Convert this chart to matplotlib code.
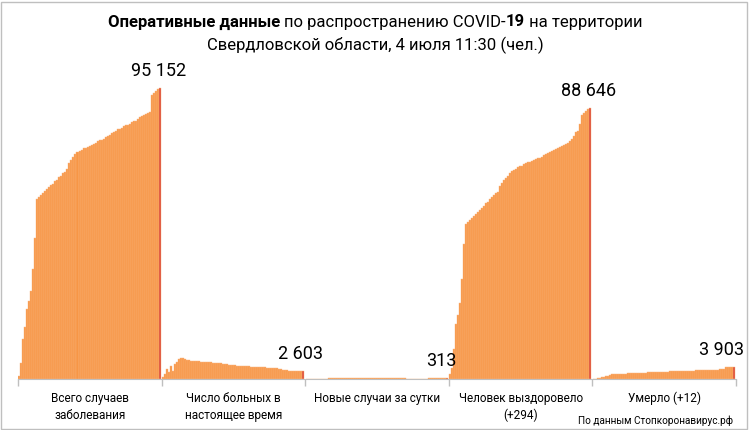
import matplotlib
matplotlib.use('Agg')
import matplotlib.pyplot as plt
from matplotlib.patches import Rectangle
import numpy as np

plt.rcParams['font.family'] = ['Roboto', 'DejaVu Sans']

# Категории (подписи под осью)
categories = ['Всего случаев\nзаболевания',
              'Число больных в\nнастоящее время',
              'Новые случаи за сутки',
              'Человек выздоровело\n(+294)',
              'Умерло (+12)']
value_labels = ['95 152', '2 603', '313', '88 646', '3 903']

# Всего случаев заболевания
total_cases = [1000, 5200, 13100, 17000, 22900, 25500, 28800, 36000, 46100, 58900,
               59500, 60200, 60800, 61500, 62100, 62800, 63400, 63900, 64600, 65200,
               65900, 66500, 67200, 67800, 68500, 70600, 71600, 72600, 73600, 74100,
               74600, 75000, 75400, 75500, 75900, 76200, 76500, 76800, 77300, 77700,
               78000, 78300, 78600, 79000, 79500, 79800, 80300, 80800, 81100, 81600,
               81900, 82200, 82600, 82900, 83200, 83500, 83900, 84200, 84500, 85000,
               85500, 86000, 86300, 86700, 87000, 87300, 92900, 93500, 94200, 94700,
               95152]

# Число больных в настоящее время
active_cases = [650, 1650, 3300, 2300, 4250, 2600, 4900, 5550, 6550, 6850,
                6900, 6500, 6200, 6050, 5980, 5950, 5890, 5820, 5760, 5720,
                5660, 5620, 5560, 5490, 5430, 5360, 5260, 5200, 5130, 5070,
                4970, 4900, 4840, 4740, 4680, 4580, 4510, 4410, 4350, 4250,
                4220, 4190, 4150, 4120, 4050, 4020, 3990, 3920, 3890, 3860,
                3830, 3790, 3760, 3700, 3660, 3630, 3600, 3470, 3340, 3200,
                3070, 2940, 2840, 2710, 2620, 2580, 2550, 2550, 2560, 2580,
                2603]

# Новые случаи за сутки
new_cases = [5, 12, 25, 40, 60, 80, 100, 120, 140, 150,
             160, 175, 190, 200, 210, 220, 230, 240, 250, 260,
             265, 270, 280, 290, 300, 290, 280, 270, 260, 250,
             240, 230, 230, 220, 220, 210, 210, 200, 200, 205,
             210, 200, 195, 190, 190, 185, 180, 175, 170, 165,
             160, 160, 155, 150, 150, 145, 140, 145, 150, 155,
             160, 170, 180, 190, 200, 215, 230, 250, 270, 290,
             313]

# Человек выздоровело
recovered = [1600, 3600, 9800, 18000, 20900, 24900, 32700, 44100, 50700, 51300,
             52000, 52600, 53300, 54000, 54600, 55300, 55900, 56700, 57400, 58000,
             58700, 59400, 60000, 60700, 61300, 63100, 64100, 65100, 65700, 66500,
             67200, 67900, 68300, 68800, 69200, 69500, 69800, 70300, 70600, 70800,
             71100, 71300, 71600, 71800, 72100, 72300, 72600, 73100, 73600, 73900,
             74200, 74600, 74900, 75200, 75500, 75900, 76200, 76500, 76800, 77200,
             77800, 78600, 79500, 80800, 81100, 83400, 86300, 87000, 87600, 88300,
             88646]

# Умерло
deaths = [60, 130, 230, 390, 560, 750, 950, 1110, 1370, 1630,
          1700, 1730, 1740, 1750, 1760, 1780, 1790, 1800, 1810, 1830,
          1850, 1880, 1920, 1970, 2010, 2060, 2110, 2160, 2200, 2230,
          2260, 2290, 2310, 2340, 2370, 2390, 2420, 2440, 2470, 2490,
          2520, 2540, 2570, 2590, 2620, 2640, 2670, 2690, 2720, 2740,
          2770, 2800, 2820, 2850, 2870, 2900, 2920, 2950, 2980, 3000,
          3030, 3060, 3100, 3140, 3180, 3260, 3800, 3830, 3860, 3880,
          3903]

series = [total_cases, active_cases, new_cases, recovered, deaths]

ORANGE = '#F79646'
STRIPE = '#FAB57F'
RED = '#DC4A38'

W, H = 750, 430
fig = plt.figure(figsize=(W / 100, H / 100), dpi=100)
ax = fig.add_axes([18 / W, 1 - 379 / H, (736 - 18) / W, (379 - 60) / H])

# сдвиг подписей значений (в пунктах), последняя прижата к краю
label_dx = [-1, -2, -4, -1, -9]

for k, vals in enumerate(series):
    n = len(vals)
    step = 0.99 / n
    xs = k + 0.003 + (np.arange(n) + 0.5) * step
    cols = [ORANGE] * (n - 1) + [RED]
    ax.bar(xs, vals, width=step, color=cols, edgecolor=STRIPE, linewidth=0.3)
    ax.annotate(value_labels[k], (xs[-1], vals[-1]), xytext=(label_dx[k], 6),
                textcoords='offset points', ha='center', va='bottom',
                fontsize=13, color='black')
    ax.text(k + 0.5, -0.04, categories[k], transform=ax.get_xaxis_transform(),
            ha='center', va='top', fontsize=8.5, linespacing=1.4)

ax.set_xlim(0, 5)
ax.set_ylim(0, 104300)
ax.set_xticks(np.arange(6))
ax.set_xticklabels([])
ax.set_yticks([])
for s in ['top', 'right', 'left']:
    ax.spines[s].set_visible(False)
ax.spines['bottom'].set_color('#BFBFBF')
ax.tick_params(axis='x', direction='out', length=5, color='#BFBFBF', width=1)
ax.patch.set_alpha(0)


def rich_line(y, parts, size):
    texts = [fig.text(0, y, s, fontsize=size, fontweight=w, va='center')
             for s, w in parts]
    fig.canvas.draw()
    r = fig.canvas.get_renderer()
    widths = [t.get_window_extent(r).width for t in texts]
    x = (W - sum(widths)) / 2
    for t, wd in zip(texts, widths):
        t.set_x(x / W)
        x += wd


rich_line(1 - 22 / H, [('Оперативные данные ', 'bold'),
                       ('по распространению COVID-', 'normal'),
                       ('19', 'bold'),
                       (' на территории', 'normal')], 12)
rich_line(1 - 45 / H, [('Свердловской области, 4 июля 11:30 (чел.)', 'normal')], 12)

fig.text(733 / W, 1 - 421 / H, 'По данным Стопкоронавирус.рф', ha='right',
         va='center', fontsize=7.2)

fig.patches.append(Rectangle((1 / W, 1 / H), 746 / W, 427 / H, transform=fig.transFigure,
                             fill=False, edgecolor='#BFBFBF', linewidth=1))

fig.savefig('out.png', dpi=100)
